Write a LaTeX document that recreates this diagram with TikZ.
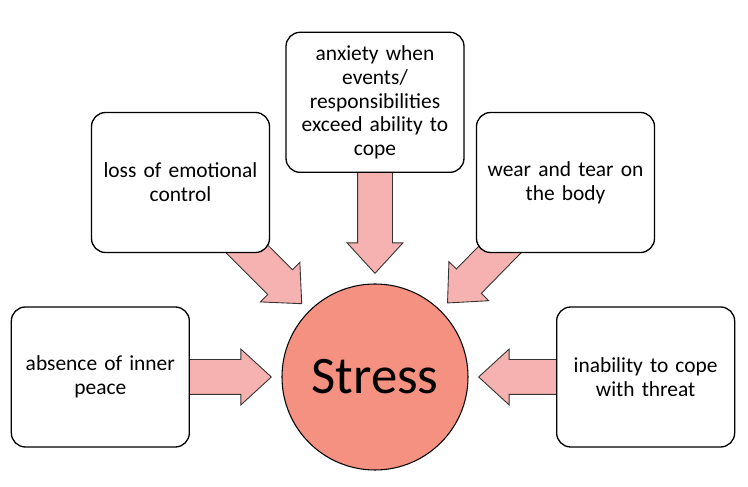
\documentclass[tikz,border=0pt]{standalone}
\usepackage{fontspec}
\setmainfont{Carlito}
\usepackage{xcolor}
\usepackage{tikz}
\usetikzlibrary{shapes.arrows, positioning, backgrounds}
\definecolor{stressred}{RGB}{245,145,128}
\definecolor{arrowpink}{RGB}{246,178,176}
\tikzset{
  cause/.style={rectangle, draw=black, fill=white, rounded corners=8pt,
                minimum width=3.56cm, minimum height=2.8cm, text width=3.2cm,
                align=center, font=\fontsize{12.2}{13.6}\selectfont, line width=0.75pt},
  core/.style={circle, draw=black, fill=stressred, minimum size=3.72cm,
               inner sep=0pt, outer sep=0.2cm, font=\fontsize{30}{36}\selectfont,
               line width=0.6pt},
  fatarrow/.style={single arrow, draw=black!80, fill=arrowpink, line width=0.5pt,
                   minimum height=2.8cm, inner xsep=0pt, inner ysep=0.34cm,
                   single arrow head extend=0.21cm, single arrow tip angle=85,
                   sloped, allow upside down, pos=1, anchor=tip},
}

\begin{document}
\begin{tikzpicture}
  \useasboundingbox (-7.5,-2.2) rectangle (7.46,7.54);

  % Nodes
  \node[core] (stress) at (0,0) {Stress};
  \node[cause, left=1.64cm of stress] (peace) {absence of inner\\peace};
  \node[cause, above left=1.02cm and 0.64cm of stress] (control) {loss of emotional\\control};
  \node[cause, above=2.02cm of stress] (anxiety) {anxiety when\\events/\\responsibilities\\exceed ability to\\cope};
  \node[cause, above right=1.02cm and 0.56cm of stress] (wear) {wear and tear on\\the body};
  \node[cause, right=1.56cm of stress] (threat) {inability to cope\\with threat};

  % Block arrows pointing at the centre (tails tucked under the boxes)
  \begin{scope}[on background layer]
    \foreach \src in {peace, control, anxiety, wear, threat}
      \path (\src) -- node[fatarrow] {} (stress);
  \end{scope}

\end{tikzpicture}
\end{document}
